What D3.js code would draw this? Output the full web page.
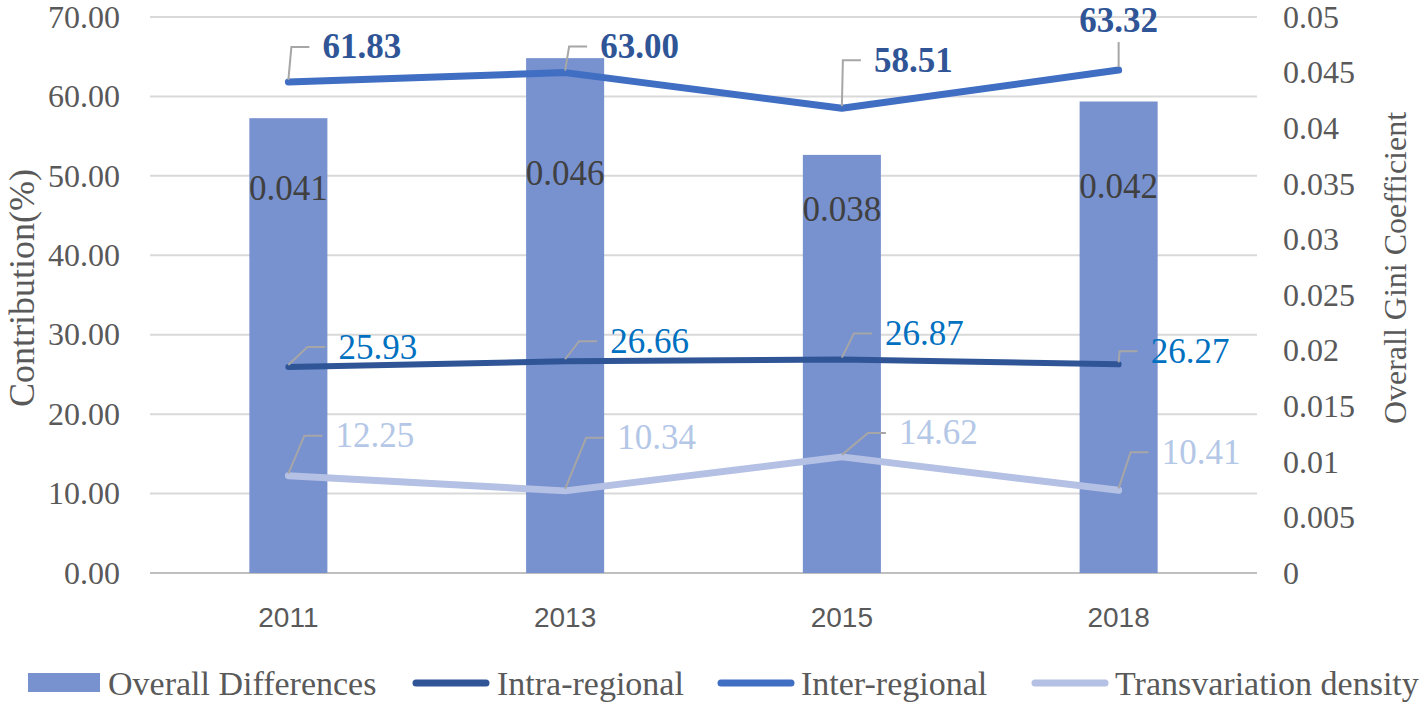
<!DOCTYPE html>
<html>
<head>
<meta charset="utf-8">
<script src="https://cdn.jsdelivr.net/npm/d3@7"></script>
<style>
  body { margin: 0; background: #fff; }
  svg { display: block; }
</style>
</head>
<body>
<svg id="chart" width="1426" height="705"></svg>
<script>
// data
const years = ["2011", "2013", "2015", "2018"];
const overallGini = [0.0409, 0.0463, 0.0376, 0.0424];
const intraRegional = [25.93, 26.66, 26.87, 26.27];
const interRegional = [61.83, 63.00, 58.51, 63.32];
const transvariation = [12.25, 10.34, 14.62, 10.41];
const leftTicks = [0, 10, 20, 30, 40, 50, 60, 70];
const rightTicks = [0, 0.005, 0.01, 0.015, 0.02, 0.025, 0.03, 0.035, 0.04, 0.045, 0.05];

// label placement (dx = text start, dy = text middle, relative to the point)
const interLabelPos = [[34, -35], [35, -26], [32, -48], [0, -50, "above"]];
const intraLabelPos = [[50, -20], [45, -20], [43, -26], [32, -13]];
const transLabelPos = [[47, -40], [52, -53], [57, -24], [43, -38]];
const barLabelDy = [70, 115, 55, 85];

const serif = "'Liberation Serif', 'Times New Roman', serif";
const svg = d3.select("#chart");

const plot = { left: 150, right: 1257, top: 17, bottom: 573 };

const x = d3.scaleBand().domain(years).range([plot.left, plot.right]);
const yL = d3.scaleLinear().domain([0, 70]).range([plot.bottom, plot.top]);
const yR = d3.scaleLinear().domain([0, 0.05]).range([plot.bottom, plot.top]);
const cx = d => x(d) + x.bandwidth() / 2;
const barW = x.bandwidth() * 0.282;

// gridlines
svg.append("g").selectAll("line")
  .data(leftTicks)
  .join("line")
  .attr("x1", plot.left).attr("x2", plot.right)
  .attr("y1", d => yL(d)).attr("y2", d => yL(d))
  .attr("stroke", d => d === 0 ? "#bfbfbf" : "#d9d9d9")
  .attr("stroke-width", 2);

// left axis
const leftAxis = svg.append("g")
  .attr("transform", "translate(120,0)")
  .call(d3.axisLeft(yL).tickValues(leftTicks).tickFormat(d3.format(".2f")).tickSize(0).tickPadding(0));
leftAxis.select(".domain").remove();
leftAxis.selectAll("text")
  .attr("font-family", serif).attr("font-size", 32).attr("fill", "#595959");

// right axis
const rightAxis = svg.append("g")
  .attr("transform", "translate(1283,0)")
  .call(d3.axisRight(yR).tickValues(rightTicks)
    .tickFormat(d => d === 0 ? "0" : String(+d.toFixed(3))).tickSize(0).tickPadding(0));
rightAxis.select(".domain").remove();
rightAxis.selectAll("text")
  .attr("font-family", serif).attr("font-size", 32).attr("fill", "#595959");

// axis titles
svg.append("text")
  .attr("transform", "translate(22,288) rotate(-90)")
  .attr("text-anchor", "middle").attr("dominant-baseline", "central")
  .attr("font-family", serif).attr("font-size", 36).attr("fill", "#595959")
  .text("Contribution(%)");

svg.append("text")
  .attr("transform", "translate(1395,268) rotate(-90)")
  .attr("text-anchor", "middle").attr("dominant-baseline", "central")
  .attr("font-family", serif).attr("font-size", 32).attr("fill", "#595959")
  .text("Overall Gini Coefficient");

// category labels
svg.append("g").selectAll("text")
  .data(years)
  .join("text")
  .attr("x", d => cx(d)).attr("y", 627)
  .attr("text-anchor", "middle")
  .attr("font-family", "'Liberation Sans Narrow', 'Liberation Sans', sans-serif")
  .attr("font-size", 28).attr("fill", "#595959")
  .text(d => d);

// bars
const barColor = "#7891cf";
svg.append("g").selectAll("rect")
  .data(years)
  .join("rect")
  .attr("x", d => cx(d) - barW / 2)
  .attr("width", barW)
  .attr("y", (d, i) => yR(overallGini[i]))
  .attr("height", (d, i) => yR(0) - yR(overallGini[i]))
  .attr("fill", barColor);

svg.append("g").selectAll("text")
  .data(years)
  .join("text")
  .attr("x", d => cx(d))
  .attr("y", (d, i) => yR(overallGini[i]) + barLabelDy[i])
  .attr("text-anchor", "middle").attr("dominant-baseline", "central")
  .attr("font-family", serif).attr("font-size", 35).attr("fill", "#404040")
  .text((d, i) => d3.format(".3f")(overallGini[i]));

// lines
const series = [
  { name: "Intra-regional", values: intraRegional, color: "#2f5597", width: 6, label: "#0070c0", bold: false, pos: intraLabelPos },
  { name: "Inter-regional", values: interRegional, color: "#3f6ec2", width: 7, label: "#2f5597", bold: true, pos: interLabelPos },
  { name: "Transvariation density", values: transvariation, color: "#b4c0e4", width: 7, label: "#b4c7e7", bold: false, pos: transLabelPos }
];

const line = d3.line()
  .x(d => cx(d.year))
  .y(d => yL(d.value));

series.forEach(s => {
  const pts = years.map((year, i) => ({ year, value: s.values[i] }));
  svg.append("path")
    .datum(pts)
    .attr("d", line)
    .attr("fill", "none")
    .attr("stroke", s.color)
    .attr("stroke-width", s.width)
    .attr("stroke-linecap", "round")
    .attr("stroke-linejoin", "round");
});

// data labels with leader lines
series.forEach(s => {
  const g = svg.append("g");
  years.forEach((year, i) => {
    const px = cx(year), py = yL(s.values[i]);
    const [dx, dy, mode] = s.pos[i];
    let path;
    if (mode === "above") {
      path = `M${px},${py - 3}L${px},${py + dy + 22}`;
    } else {
      path = `M${px},${py - 2}L${px + dx - 31},${py + dy}L${px + dx - 13},${py + dy}`;
    }
    g.append("path")
      .attr("d", path)
      .attr("fill", "none")
      .attr("stroke", "#a6a6a6")
      .attr("stroke-width", 2);
    g.append("text")
      .attr("x", px + dx).attr("y", py + dy)
      .attr("text-anchor", mode === "above" ? "middle" : "start")
      .attr("dominant-baseline", "central")
      .attr("font-family", serif).attr("font-size", 35)
      .attr("font-weight", s.bold ? "bold" : "normal")
      .attr("fill", s.label)
      .text(s.values[i].toFixed(2));
  });
});

// legend
const legendItems = [
  { name: "Overall Differences", type: "bar", color: barColor, x: 28, tx: 108 },
  { name: "Intra-regional", type: "line", color: "#2f5597", x: 412, tx: 497 },
  { name: "Inter-regional", type: "line", color: "#3f6ec2", x: 717, tx: 801 },
  { name: "Transvariation density", type: "line", color: "#b4c0e4", x: 1031, tx: 1115 }
];
const legendY = 683;
const legend = svg.append("g");
legendItems.forEach(item => {
  if (item.type === "bar") {
    legend.append("rect")
      .attr("x", item.x).attr("y", legendY - 10)
      .attr("width", 72).attr("height", 19)
      .attr("fill", item.color);
  } else {
    legend.append("line")
      .attr("x1", item.x + 4).attr("x2", item.x + 74)
      .attr("y1", legendY).attr("y2", legendY)
      .attr("stroke", item.color).attr("stroke-width", 7)
      .attr("stroke-linecap", "round");
  }
  legend.append("text")
    .attr("x", item.tx).attr("y", legendY)
    .attr("dominant-baseline", "central")
    .attr("font-family", serif).attr("font-size", 34).attr("fill", "#595959")
    .text(item.name);
});
</script>
</body>
</html>
